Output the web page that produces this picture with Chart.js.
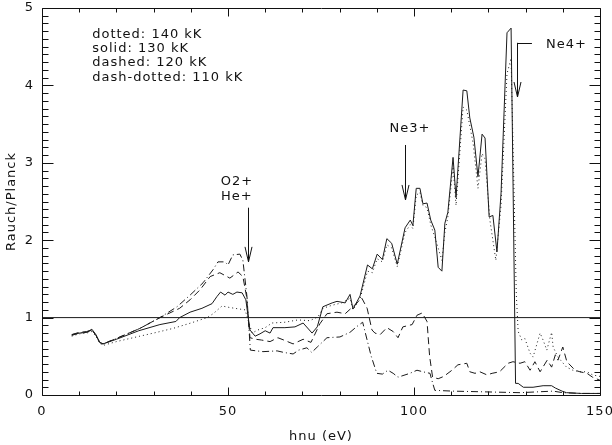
<!DOCTYPE html>
<html>
<head>
<meta charset="utf-8">
<script src="https://cdn.jsdelivr.net/npm/chart.js@4"></script>
<style>
html,body{margin:0;padding:0;background:#fff;}
</style>
</head>
<body>
<canvas id="c" width="612" height="445"></canvas>
<script>
// Rauch/Planck flux ratio vs photon energy, four temperatures

var solidE = [8,10,12,13.4,14.5,15.5,16.4,20,26,31.7,36,37,39.8,43,45.7,47,48,49.2,50,51.3,52.4,53.8,54.8,55.9,57.3,58.6,60,61.3,62.1,65.3,68,70.2,72.6,74,75.5,78,79.3,81.5,82.8,83.6,85.5,87.5,88.8,90.1,91.5,92.7,94,95.5,97.6,99,99.7,100.6,101.6,102.4,103.5,104.5,105.6,106.5,107.5,108.3,109.1,110.5,111.3,113.2,114.2,115,116.1,117.2,118.3,119.1,120.2,121.2,122.3,123.4,125,126.1,127.3,128,129.4,132,134.7,137,138,139.8,141,145,150];
var solidR = [0.78,0.80,0.81,0.85,0.78,0.68,0.66,0.72,0.83,0.91,0.95,1.0,1.07,1.12,1.18,1.27,1.33,1.29,1.33,1.30,1.33,1.32,1.23,0.84,0.76,0.79,0.83,0.80,0.87,0.87,0.88,0.93,0.80,0.88,1.14,1.19,1.21,1.19,1.30,1.11,1.28,1.68,1.63,1.82,1.75,2.02,1.96,1.69,2.16,2.26,2.19,2.67,2.67,2.47,2.48,2.26,2.13,1.65,1.60,2.22,2.36,3.07,2.55,3.94,3.93,3.58,3.33,2.82,3.37,3.32,2.30,2.32,1.85,2.61,4.68,4.74,0.15,0.15,0.10,0.10,0.12,0.12,0.09,0.05,0.03,0.02,0.02];

var dottedE = [8,10,12,13.4,14.5,15.5,16.4,20,26.3,30,35.2,40,44.4,46,48.4,50.5,53.2,54.6,55.5,56.5,58,60,61.8,65.3,68.8,72,74.2,75.5,78,80.6,82.8,83.6,85.5,87.5,88.8,90.1,91.5,92.7,94,95.5,97.6,99,99.7,100.6,101.6,102.4,103.5,104.5,105.6,107.5,108.3,109.1,110.5,111.3,113.2,114.2,115.9,117.2,118.3,119.1,120.4,122,123.4,125,126.1,127.5,128,129,129.8,131.2,132,133.9,134.7,135.7,137,137.4,138.7,141,142.7,144.6,146.5,148,150];
var dottedR = [0.76,0.79,0.80,0.82,0.76,0.67,0.64,0.69,0.76,0.80,0.86,0.93,1.0,1.05,1.15,1.13,1.11,1.10,0.95,0.80,0.84,0.87,0.93,0.94,0.97,0.96,1.01,1.12,1.16,1.19,1.25,1.10,1.24,1.60,1.58,1.76,1.72,1.94,1.90,1.66,2.10,2.20,2.15,2.58,2.62,2.45,2.42,2.20,2.04,1.74,2.10,2.30,2.95,2.45,3.72,3.68,3.25,2.67,3.12,3.05,2.26,1.74,2.45,4.15,4.35,1.30,0.82,0.71,0.73,0.54,0.49,0.80,0.71,0.58,0.81,0.62,0.49,0.36,0.32,0.30,0.30,0.26,0.24];

var dashedE = [8,10,12,13.4,14.5,15.5,16.4,20,26.3,31.7,37,39.8,42.5,45.2,47.8,50.5,52.7,54,55,55.9,57.5,59,61.3,63.4,65,67.5,70.2,72.3,74.7,76.6,79.3,81.5,84.7,86,87.4,88.7,89.5,90.9,92.7,94.4,95.7,97,99.5,100.8,102.2,103.5,104.2,105,106.5,108,110.2,111.8,114.2,115,116.4,117.7,119.6,121,123,125.3,126.6,128.5,129.8,131.2,132.5,133.9,135.8,137,138,138.7,140,141.1,143.3,144.6,146.5,148,150];
var dashedR = [0.78,0.81,0.82,0.84,0.77,0.68,0.66,0.73,0.86,1.0,1.12,1.23,1.36,1.53,1.58,1.51,1.59,1.53,1.27,0.74,0.72,0.71,0.69,0.74,0.71,0.66,0.72,0.68,0.92,1.05,1.07,1.05,1.19,1.25,1.12,0.84,0.80,0.78,0.87,0.82,0.74,0.88,0.91,1.03,1.06,0.95,0.50,0.23,0.21,0.24,0.32,0.39,0.41,0.30,0.28,0.30,0.26,0.28,0.30,0.41,0.43,0.41,0.43,0.32,0.43,0.30,0.45,0.36,0.52,0.45,0.62,0.43,0.32,0.30,0.28,0.23,0.19];

var dashDotE = [8,10,12,13.4,14.5,15.5,16.4,20,26.3,31.7,36.3,39.8,43.3,46,47.3,49.2,50,51.3,53.2,54,55.1,56,59.4,63.2,65,67.5,69,71.2,72.5,74,76.6,80.1,82.8,84.5,86.2,87.4,88.5,90,91.5,93,94.4,95.7,98.9,100.8,102.4,104.3,104.8,105.6,110.5,119.6,128.5,137.4,140,145,150];
var dashDotR = [0.77,0.80,0.81,0.84,0.77,0.68,0.66,0.73,0.86,1.0,1.14,1.29,1.45,1.62,1.72,1.72,1.68,1.81,1.82,1.74,1.27,0.58,0.56,0.57,0.55,0.53,0.58,0.61,0.55,0.62,0.74,0.75,0.81,0.88,0.94,0.71,0.50,0.28,0.27,0.32,0.28,0.23,0.28,0.32,0.30,0.28,0.19,0.06,0.05,0.04,0.03,0.05,0.03,0.02,0.02];

var unityE = [0, 150];
var unityR = [1, 1];

var xTicks = [0, 50, 100, 150];
var yTicks = [0, 1, 2, 3, 4, 5];

var legendLines = ['dotted: 140 kK', 'solid: 130 kK', 'dashed: 120 kK', 'dash-dotted: 110 kK'];
var legendR = [4.66, 4.48, 4.29, 4.10];
// edge labels: text lines, arrow energy, arrow top, arrow tip
var edges = [
	{ text: ['O2+', 'He+'], textE: 52.4, textR: [2.76, 2.56], e: 55.5, top: 2.42, tip: 1.72 },
	{ text: ['Ne3+'], textE: 98.9, textR: [3.44], e: 97.6, top: 3.23, tip: 2.52 },
	{ text: ['Ne4+'], textE: 135.5, textR: [4.53], e: 127.7, top: 4.55, tip: 3.85, leaderTo: 131.7 }
];

function pts(xs, ys) {
	return xs.map(function (x, i) { return { x: x, y: ys[i] }; });
}

var FONT = '"DejaVu Sans", sans-serif';

var framePlugin = {
	id: 'framePlugin',
	beforeDraw: function (chart) {
		chart.ctx.letterSpacing = '1px';
	},
	afterDatasetsDraw: function (chart) {
		var ctx = chart.ctx, xs = chart.scales.x, ys = chart.scales.y, a = chart.chartArea;
		ctx.save();
		ctx.strokeStyle = '#111';
		ctx.lineWidth = 1;
		var L = Math.round(a.left) + 0.5, R = Math.round(a.right) + 0.5;
		var T = Math.round(a.top) + 0.5, B = Math.round(a.bottom) + 0.5;
		ctx.beginPath();
		ctx.rect(L, T, R - L, B - T);
		for (var v = 0; v <= 150; v += 10) {
			var px = Math.round(xs.getPixelForValue(v)) + 0.5;
			var len = v % 50 === 0 ? 8 : 4;
			ctx.moveTo(px, B); ctx.lineTo(px, B - len);
			ctx.moveTo(px, T); ctx.lineTo(px, T + len);
		}
		for (var k = 0; k <= 50; k++) {
			var py = Math.round(ys.getPixelForValue(k / 10)) + 0.5;
			var ln = k % 10 === 0 ? 11 : 6;
			ctx.moveTo(L, py); ctx.lineTo(L + ln, py);
			ctx.moveTo(R, py); ctx.lineTo(R - ln, py);
		}
		ctx.stroke();

		// legend text
		ctx.fillStyle = '#111';
		ctx.font = '13px ' + FONT;
		ctx.textBaseline = 'middle';
		ctx.textAlign = 'left';
		legendLines.forEach(function (s, i) {
			ctx.fillText(s, xs.getPixelForValue(13.5), ys.getPixelForValue(legendR[i]));
		});

		// edge arrows
		edges.forEach(function (ed) {
			var x = Math.round(xs.getPixelForValue(ed.e)) + 0.5;
			var yt = ys.getPixelForValue(ed.top), yp = ys.getPixelForValue(ed.tip);
			ctx.beginPath();
			ctx.moveTo(x, yt); ctx.lineTo(x, yp);
			ctx.moveTo(x - 3.5, yp - 15); ctx.lineTo(x, yp); ctx.lineTo(x + 3.5, yp - 15);
			if (ed.leaderTo) {
				ctx.moveTo(x, Math.round(yt) + 0.5);
				ctx.lineTo(xs.getPixelForValue(ed.leaderTo), Math.round(yt) + 0.5);
			}
			ctx.stroke();
			ctx.textAlign = ed.leaderTo ? 'left' : 'center';
			ed.text.forEach(function (s, i) {
				ctx.fillText(s, xs.getPixelForValue(ed.textE), ys.getPixelForValue(ed.textR[i]));
			});
		});
		ctx.restore();
	}
};

function series(xs, ys, dash) {
	return {
		data: pts(xs, ys),
		borderColor: '#1a1a1a',
		borderWidth: 1,
		borderDash: dash,
		pointRadius: 0,
		tension: 0,
		fill: false
	};
}

new Chart(document.getElementById('c'), {
	type: 'line',
	data: {
		datasets: [
			series(unityE, unityR, []),
			series(dottedE, dottedR, [1, 3]),
			series(solidE, solidR, []),
			series(dashedE, dashedR, [7, 4]),
			series(dashDotE, dashDotR, [7, 3, 1, 3])
		]
	},
	options: {
		responsive: false,
		animation: false,
		devicePixelRatio: 1,
		layout: { padding: { left: 0, right: 12, top: 8, bottom: 0 } },
		plugins: { legend: { display: false }, tooltip: { enabled: false } },
		scales: {
			x: {
				type: 'linear',
				min: 0, max: 150,
				afterFit: function (s) { s.height = 50; s.paddingLeft = 0; s.paddingRight = 0; },
				afterBuildTicks: function (s) { s.ticks = xTicks.map(function (v) { return { value: v }; }); },
				grid: { display: false, drawTicks: false },
				border: { display: false },
				ticks: { color: '#111', padding: 9, maxRotation: 0, font: { family: FONT, size: 13 } },
				title: { display: true, text: 'hnu (eV)', color: '#111', padding: { top: 0, bottom: 1 }, font: { family: FONT, size: 13 } }
			},
			y: {
				type: 'linear',
				min: 0, max: 5,
				afterFit: function (s) { s.width = 42; s.paddingTop = 0; s.paddingBottom = 0; },
				afterBuildTicks: function (s) { s.ticks = yTicks.map(function (v) { return { value: v }; }); },
				grid: { display: false, drawTicks: false },
				border: { display: false },
				ticks: { color: '#111', padding: 8, font: { family: FONT, size: 13 } },
				title: { display: true, text: 'Rauch/Planck', color: '#111', padding: { top: 4, bottom: 0 }, font: { family: FONT, size: 13 } }
			}
		}
	},
	plugins: [framePlugin]
});
</script>
</body>
</html>
